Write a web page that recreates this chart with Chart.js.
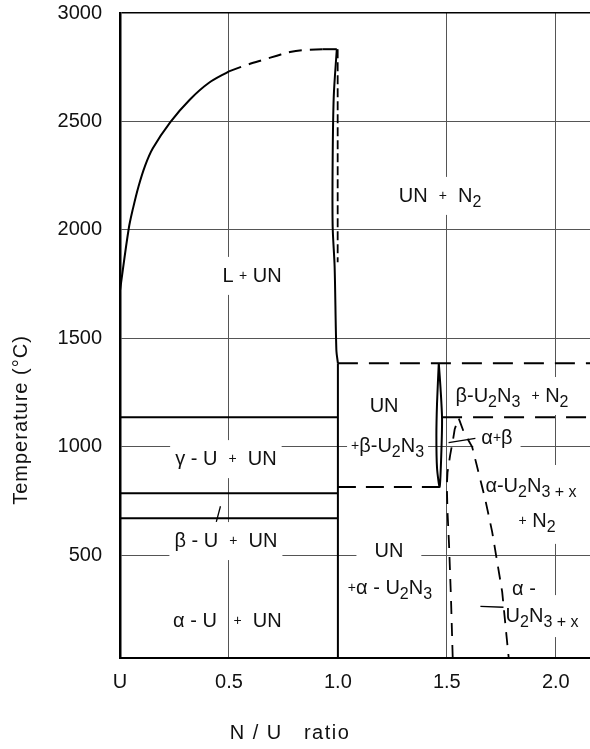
<!DOCTYPE html>
<html>
<head>
<meta charset="utf-8">
<title>U-N phase diagram</title>
<script src="https://cdn.jsdelivr.net/npm/chart.js@4.4.0/dist/chart.umd.min.js"></script>
<style>
  html, body { margin: 0; padding: 0; background: #fff; }
  canvas { display: block; }
</style>
</head>
<body>
<canvas id="phaseChart" width="590" height="749"></canvas>
<script>
const FONT = '"Liberation Sans", Arial, sans-serif';

// axis ticks
const xTicks = [0, 0.5, 1.0, 1.5, 2.0];
const yTicks = [500, 1000, 1500, 2000, 2500, 3000];

// liquidus (solid part, then the dashed estimate up to UN melting)
const liqX = [0, 0.04, 0.06, 0.085, 0.115, 0.15, 0.231, 0.32, 0.407, 0.5];
const liqT = [1720, 2005, 2100, 2200, 2295, 2375, 2497, 2600, 2677, 2731];
const liqDashX = [0.5, 0.58, 0.66, 0.72, 0.78, 0.84, 0.93];
const liqDashT = [2731, 2760, 2785, 2803, 2820, 2829, 2833];

// UN melting cap and the N-poor side of UN
const capX = [0.93, 0.995];
const capT = [2833, 2833];
const unCurveX = [0.995, 0.981, 0.976, 0.976, 0.985, 0.993, 1.0];
const unCurveT = [2833, 2615, 2323, 2015, 1830, 1446, 1385];
const unLineX = [1.0, 1.0];
const unLineT = [1385, 25];
const unDashX = [0.999, 0.999];
const unDashT = [2833, 1850];

// uranium transformations (gamma, beta/gamma, alpha/beta)
const uLevels = [1135, 785, 670];
const uLevelX = [0, 1.0];

// U2N3 decomposition limits
const topDashX = [1.0, 2.157];
const topDashT = [1385, 1385];
const lowDashX = [1.0, 1.466];
const lowDashT = [814, 814];
const abDashX = [1.478, 2.157];
const abDashT = [1135, 1135];

// beta-U2N3 lens
const lensX = [1.463, 1.455, 1.452, 1.455, 1.467, 1.474, 1.478, 1.471, 1.463];
const lensT = [1385, 1200, 1050, 900, 814, 950, 1130, 1270, 1385];

// alpha-U2N3 boundaries and the alpha+beta dome
const domeX = [1.527, 1.519, 1.510, 1.503, 1.500, 1.503, 1.515, 1.528, 1.536, 1.554,
               1.577, 1.616, 1.639, 1.677, 1.708, 1.754, 1.769, 1.784];
const domeT = [25, 300, 550, 700, 820, 880, 960, 1030, 1080, 1132,
               1069, 999, 907, 753, 607, 330, 176, 25];

// short pointer lines
const leadBetaX = [0.461, 0.442];
const leadBetaT = [725, 653];
const leadAbX = [1.508, 1.631];
const leadAbT = [1018, 1038];
const leadU2X = [1.654, 1.760];
const leadU2T = [263, 259];

// field names: runs of [text, style]  n = normal, s = subscript, p = small plus
const fieldLabels = [
  { x: 0.606, y: 1792, pad: [5, 8], runs: [['L ', 'n'], ['+', 'p'], [' UN', 'n']] },
  { x: 1.469, y: 2161, pad: [5, 8], runs: [['UN  ', 'n'], ['+', 'p'], ['  N', 'n'], ['2', 's']] },
  { x: 0.486, y: 947, pad: [5, 8], runs: [['γ - U  ', 'n'], ['+', 'p'], ['  UN', 'n']] },
  { x: 0.486, y: 569, pad: [5, 8], runs: [['β - U  ', 'n'], ['+', 'p'], ['  UN', 'n']] },
  { x: 0.493, y: 200, pad: null, runs: [['α - U   ', 'n'], ['+', 'p'], ['  UN', 'n']] },
  { x: 1.212, y: 1192, pad: null, runs: [['UN', 'n']] },
  { x: 1.228, y: 1007, pad: [4, 8], runs: [['+', 'p'], ['β-U', 'n'], ['2', 's'], ['N', 'n'], ['3', 's']] },
  { x: 1.234, y: 523, pad: [18, 8], runs: [['UN', 'n']] },
  { x: 1.239, y: 352, pad: null, runs: [['+', 'p'], ['α - U', 'n'], ['2', 's'], ['N', 'n'], ['3', 's']] },
  { x: 1.799, y: 1238, pad: [5, 8], runs: [['β-U', 'n'], ['2', 's'], ['N', 'n'], ['3', 's'], ['  ', 'n'], ['+', 'p'], [' N', 'n'], ['2', 's']] },
  { x: 1.730, y: 1044, pad: [8, 8], runs: [['α', 'n'], ['+', 'p'], ['β', 'n']] },
  { x: 1.886, y: 823, pad: [5, 10], runs: [['α-U', 'n'], ['2', 's'], ['N', 'n'], ['3 + x', 's']] },
  { x: 1.914, y: 662, pad: [5, 12], runs: [['+', 'p'], [' N', 'n'], ['2', 's']] },
  { x: 1.854, y: 348, pad: null, runs: [['α -', 'n']] },
  { x: 1.937, y: 223, pad: [5, 10], runs: [['U', 'n'], ['2', 's'], ['N', 'n'], ['3 + x', 's']] }
];

function pts(xs, ys) {
  return xs.map((x, i) => ({ x: x, y: ys[i] }));
}

function line(xs, ys, opts) {
  return Object.assign({
    data: pts(xs, ys),
    showLine: true,
    borderColor: '#000',
    borderWidth: 2,
    pointRadius: 0,
    tension: 0,
    fill: false
  }, opts || {});
}

const datasets = [
  line(liqX, liqT, { tension: 0.35 }),
  line(liqDashX, liqDashT, { tension: 0.35, borderDash: [13, 8] }),
  line(capX, capT),
  line(unCurveX, unCurveT, { tension: 0.3 }),
  line(unLineX, unLineT),
  line(unDashX, unDashT, { borderDash: [9, 4], borderWidth: 1.8 }),
  line(topDashX, topDashT, { borderDash: [20, 11] }),
  line(lowDashX, lowDashT, { borderDash: [18, 10] }),
  line(abDashX, abDashT, { borderDash: [20, 11] }),
  line(lensX, lensT, { tension: 0.25, borderWidth: 2 }),
  line(domeX, domeT, { borderDash: [13, 9], borderWidth: 1.8 }),
  line(leadBetaX, leadBetaT, { borderWidth: 1.3 }),
  line(leadAbX, leadAbT, { borderWidth: 1.3 }),
  line(leadU2X, leadU2T, { borderWidth: 1.3 })
];
uLevels.forEach(t => datasets.push(line(uLevelX, [t, t])));

function runFont(style) {
  if (style === 's') return '16px ' + FONT;
  if (style === 'p') return '14px ' + FONT;
  return '20px ' + FONT;
}

function runsWidth(ctx, runs) {
  let w = 0;
  runs.forEach(r => { ctx.font = runFont(r[1]); w += ctx.measureText(r[0]).width; });
  return w;
}

// white boxes behind the field names break the grid lines, then the names go on top
const phasePlugin = {
  id: 'phaseLabels',
  beforeDatasetsDraw(chart) {
    const ctx = chart.ctx;
    const xs = chart.scales.x, ys = chart.scales.y;
    ctx.save();
    ctx.fillStyle = '#fff';
    fieldLabels.forEach(l => {
      if (!l.pad) return;
      const w = runsWidth(ctx, l.runs);
      const cx = xs.getPixelForValue(l.x), cy = ys.getPixelForValue(l.y);
      ctx.fillRect(cx - w / 2 - l.pad[0], cy - 10 - l.pad[1], w + 2 * l.pad[0], 22 + 2 * l.pad[1]);
    });
    ctx.restore();
  },
  afterDatasetsDraw(chart) {
    const ctx = chart.ctx;
    const xs = chart.scales.x, ys = chart.scales.y;
    ctx.save();
    ctx.fillStyle = '#111';
    ctx.textBaseline = 'alphabetic';
    ctx.textAlign = 'left';
    fieldLabels.forEach(l => {
      const w = runsWidth(ctx, l.runs);
      let px = xs.getPixelForValue(l.x) - w / 2;
      const base = ys.getPixelForValue(l.y) + 7;
      l.runs.forEach(r => {
        ctx.font = runFont(r[1]);
        const dy = r[1] === 's' ? 5 : (r[1] === 'p' ? -2 : 0);
        ctx.fillText(r[0], px, base + dy);
        px += ctx.measureText(r[0]).width;
      });
    });
    ctx.restore();
  },
  afterDraw(chart) {
    const ctx = chart.ctx;
    ctx.save();
    ctx.fillStyle = '#111';
    ctx.font = '20px ' + FONT;
    ctx.textAlign = 'center';
    ctx.textBaseline = 'middle';
    ctx.letterSpacing = '1.5px';
    ctx.fillText('N / U   ratio', 290, 733);
    ctx.translate(21, 420);
    ctx.rotate(-Math.PI / 2);
    ctx.letterSpacing = '1px';
    ctx.fillText('Temperature (°C)', 0, 0);
    ctx.restore();
  }
};

new Chart(document.getElementById('phaseChart'), {
  type: 'scatter',
  data: { datasets: datasets },
  options: {
    responsive: false,
    animation: false,
    events: [],
    layout: { padding: { top: 13, right: 0, bottom: 0, left: 0 } },
    plugins: { legend: { display: false }, tooltip: { enabled: false } },
    scales: {
      x: {
        type: 'linear',
        min: 0,
        max: 2.157,
        afterBuildTicks: s => { s.ticks = xTicks.map(v => ({ value: v })); },
        afterFit: s => { s.height = 91; s.paddingLeft = 0; s.paddingRight = 0; },
        ticks: {
          padding: 12,
          color: '#111',
          maxRotation: 0,
          autoSkip: false,
          font: { family: FONT, size: 20 },
          callback: v => (v === 0 ? 'U' : v.toFixed(1))
        },
        grid: {
          drawTicks: false,
          lineWidth: 1,
          color: c => (c.tick && (c.tick.value === 0 || c.tick.value === 1)) ? 'rgba(0,0,0,0)' : '#555'
        },
        border: { color: '#000', width: 2 }
      },
      y: {
        type: 'linear',
        min: 25,
        max: 3000,
        afterBuildTicks: s => { s.ticks = yTicks.map(v => ({ value: v })); },
        afterFit: s => { s.width = 120; s.paddingTop = 0; s.paddingBottom = 0; },
        ticks: {
          padding: 18,
          color: '#111',
          font: { family: FONT, size: 20 },
          callback: v => String(v)
        },
        grid: {
          drawTicks: false,
          lineWidth: c => (c.tick && c.tick.value === 3000) ? 1.6 : 1,
          color: c => (c.tick && c.tick.value === 3000) ? '#000' : '#555'
        },
        border: { color: '#000', width: 2.5 }
      }
    }
  },
  plugins: [phasePlugin]
});
</script>
</body>
</html>
